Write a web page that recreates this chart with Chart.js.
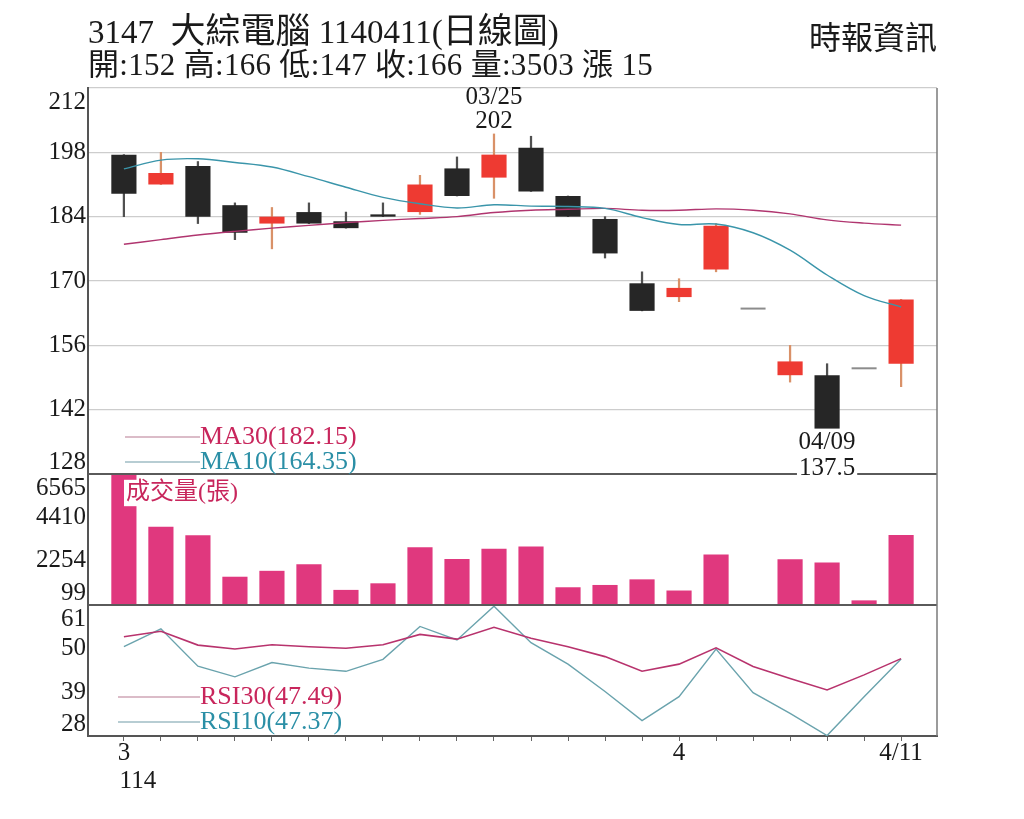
<!DOCTYPE html>
<html lang="zh-Hant">
<head>
<meta charset="UTF-8">
<title>3147 大綜電腦 日線圖</title>
<script src="https://cdn.jsdelivr.net/npm/chart.js@4.4.1/dist/chart.umd.min.js"></script>
<style>
    body { margin: 0; background: #fff; }
    .wrap { position: relative; width: 1024px; height: 819px; overflow: hidden; }
    canvas { position: absolute; left: 0; top: 0; }
    .hd { position: absolute; color: #1a1a1a; white-space: pre; line-height: 1; z-index: 2;
          font-family: "Liberation Serif", "Noto Sans CJK TC", serif; }
    #title { left: 88px; top: 14px; font-size: 33px; }
    #title .cjk { font-size: 35px; }
    #info { left: 88px; top: 49px; font-size: 31px; letter-spacing: 0.3px; }
    #src { left: 809px; top: 19px; font-size: 32px; font-family: "Noto Sans CJK TC", sans-serif; }
</style>
</head>
<body>
<div class="wrap">
    <div class="hd" id="title">3147  <span class="cjk">大綜電腦</span> 1140411(<span class="cjk">日線圖</span>)</div>
    <div class="hd" id="info">開:152 高:166 低:147 收:166 量:3503 漲 15</div>
    <div class="hd" id="src">時報資訊</div>
    <canvas id="chart" width="1024" height="819"></canvas>
</div>
<script>
    // daily data, 114/03/11 - 114/04/11
    const dates = ['03/11', '03/12', '03/13', '03/14', '03/17', '03/18', '03/19', '03/20', '03/21', '03/24', '03/25',
        '03/26', '03/27', '03/28', '03/31', '04/01', '04/02', '04/07', '04/08', '04/09', '04/10', '04/11'];
    const opens = [197.5, 191, 195, 186.5, 182.5, 185, 183, 184.5, 185, 194.5, 192.5,
        199, 188.5, 183.5, 169.5, 166.5, 172.5, 164, 149.5, 149.5, 151, 152];
    const highs = [197.5, 198, 196, 187, 186, 187, 185, 187, 193, 197, 202,
        201.5, 188.5, 184, 172, 170.5, 182.5, 164, 156, 152, 151, 166];
    const lows = [184, 191, 182.5, 179, 177, 182.5, 181.5, 184, 184.5, 188.5, 188,
        189.5, 184, 175, 163.5, 165.5, 172, 164, 148, 137.5, 151, 147];
    const closes = [189, 193.5, 184, 180.5, 184, 182.5, 181.5, 184, 191, 188.5, 197.5,
        189.5, 184, 176, 163.5, 168.5, 182, 164, 152.5, 137.5, 151, 166];
    const volumes = [6565, 3918, 3493, 1417, 1713, 2042, 757, 1087, 2898, 2305, 2816,
        2931, 889, 1004, 1285, 726, 2535, 0, 2288, 2124, 232, 3503];
    const ma10 = [194.4, 196.3, 196.6, 195.8, 194.8, 192.7, 190.4, 188.2, 186.8, 185.9, 186.6,
        186.3, 186.2, 185.8, 183.8, 182.3, 182.4, 180.5, 176.7, 171.3, 166.8, 164.35];
    const ma30 = [178.0, 179.0, 180.0, 180.8, 181.5, 182.1, 182.7, 183.2, 183.6, 184.0, 184.9,
        185.4, 185.6, 185.8, 185.4, 185.4, 185.7, 185.4, 184.6, 183.3, 182.6, 182.15];
    const rsi30 = [53.0, 54.4, 50.9, 49.9, 51.0, 50.5, 50.1, 51.0, 53.6, 52.4, 55.4,
        52.6, 50.5, 48.0, 44.3, 46.1, 50.2, 45.5, 42.5, 39.6, 43.4, 47.49];
    const rsi10 = [50.5, 55.0, 45.6, 42.9, 46.5, 45.1, 44.3, 47.3, 55.6, 52.2, 60.7,
        51.5, 46.1, 39.2, 31.9, 37.9, 49.9, 38.9, 33.7, 28.1, 37.9, 47.37];

    const priceTicks = [128, 142, 156, 170, 184, 198, 212];
    const volumeTicks = [99, 2254, 4410, 6565];
    const rsiTicks = [28, 39, 50, 61];
    const monthLabels = { 0: '3', 15: '4', 21: '4/11' };
    const yearLabel = '114';

    const RED = '#ee3a32', BLACK = '#262626', FLAT = '#8c8c8c';
    const FONT = '"Liberation Serif", "Noto Sans CJK TC", serif';

    const idx = dates.map((d, i) => i);
    const candleColor = i => closes[i] > opens[i] ? RED : (closes[i] < opens[i] ? BLACK : FLAT);
    const wickColor = i => closes[i] > opens[i] ? '#d99168' : '#505050';

    function text(ctx, s, x, y, o) {
        o = o || {};
        ctx.save();
        ctx.font = (o.size || 25) + 'px ' + FONT;
        ctx.textAlign = o.align || 'center';
        ctx.textBaseline = 'middle';
        if (o.bg) {
            const w = ctx.measureText(s).width;
            const x0 = o.align === 'left' ? x : (o.align === 'right' ? x - w : x - w / 2);
            ctx.fillStyle = o.bg;
            ctx.fillRect(x0 - 2, y - (o.size || 25) * 0.55, w + 4, (o.size || 25) * 1.1);
        }
        ctx.fillStyle = o.color || '#1a1a1a';
        ctx.fillText(s, x, y);
        ctx.restore();
    }

    function legendLine(ctx, x0, x1, y, color) {
        ctx.save();
        ctx.strokeStyle = color;
        ctx.lineWidth = 1.5;
        ctx.beginPath();
        ctx.moveTo(x0, y);
        ctx.lineTo(x1, y);
        ctx.stroke();
        ctx.restore();
    }

    const panelDecor = {
        id: 'panelDecor',
        afterDraw(chart) {
            const ctx = chart.ctx;
            const a = chart.chartArea;
            const { x, yPrice, yVol, yRsi } = chart.scales;

            // panel separators and right frame
            ctx.save();
            ctx.strokeStyle = '#5a5a5a';
            ctx.lineWidth = 2;
            [yVol.top, yRsi.top].forEach(y => {
                ctx.beginPath();
                ctx.moveTo(a.left, y);
                ctx.lineTo(a.right, y);
                ctx.stroke();
            });
            ctx.strokeStyle = '#7a7a7a';
            ctx.lineWidth = 1.5;
            ctx.beginPath();
            ctx.moveTo(a.right, a.top);
            ctx.lineTo(a.right, a.bottom);
            ctx.stroke();
            ctx.restore();

            // y tick labels, kept inside their own panel
            [[yPrice, priceTicks], [yVol, volumeTicks], [yRsi, rsiTicks]].forEach(([s, ticks]) => {
                ticks.forEach(v => {
                    const y = Math.min(Math.max(s.getPixelForValue(v), s.top + 14), s.bottom - 12);
                    text(ctx, String(v), a.left - 2, y, { align: 'right' });
                });
            });

            // x labels
            Object.keys(monthLabels).forEach(k => {
                text(ctx, monthLabels[k], x.getPixelForValue(+k), x.top + 17);
            });
            text(ctx, yearLabel, x.getPixelForValue(0) + 14, x.top + 45);

            // highest and lowest marks
            const hi = highs.indexOf(Math.max(...highs));
            const lo = lows.indexOf(Math.min(...lows));
            const hx = x.getPixelForValue(hi), hy = yPrice.getPixelForValue(highs[hi]);
            text(ctx, dates[hi], hx, hy - 37);
            text(ctx, String(highs[hi]), hx, hy - 13);
            const lx = x.getPixelForValue(lo), ly = yPrice.getPixelForValue(lows[lo]);
            text(ctx, dates[lo], lx, ly + 12, { bg: '#fff' });
            text(ctx, String(lows[lo]), lx, ly + 38, { bg: '#fff' });

            // in-panel legends
            const lx0 = a.left + 37, lx1 = a.left + 112;
            legendLine(ctx, lx0, lx1, yPrice.bottom - 37, '#cfa6b6');
            text(ctx, 'MA30(' + ma30[ma30.length - 1].toFixed(2) + ')', lx1, yPrice.bottom - 37, { align: 'left', size: 26, color: '#c8265c' });
            legendLine(ctx, lx0, lx1, yPrice.bottom - 12, '#9fbcc4');
            text(ctx, 'MA10(' + ma10[ma10.length - 1].toFixed(2) + ')', lx1, yPrice.bottom - 12, { align: 'left', size: 26, color: '#2b8fa6' });

            text(ctx, '成交量(張)', a.left + 38, yVol.top + 19, { align: 'left', size: 24, color: '#c8265c', bg: '#fff' });

            legendLine(ctx, a.left + 30, lx1, yRsi.bottom - 39, '#cfa6b6');
            text(ctx, 'RSI30(' + rsi30[rsi30.length - 1].toFixed(2) + ')', lx1, yRsi.bottom - 39, { align: 'left', size: 26, color: '#c8265c' });
            legendLine(ctx, a.left + 30, lx1, yRsi.bottom - 14, '#9fbcc4');
            text(ctx, 'RSI10(' + rsi10[rsi10.length - 1].toFixed(2) + ')', lx1, yRsi.bottom - 14, { align: 'left', size: 26, color: '#2b8fa6' });
        }
    };

    const fixedTicks = list => scale => { scale.ticks = list.map(v => ({ value: v })); };
    const yAxis = (weight, stackWeight, min, max, ticks, grid) => ({
        type: 'linear', position: 'left', stack: 'panels', weight, stackWeight, min, max,
        afterBuildTicks: fixedTicks(ticks),
        afterFit: s => { s.width = 88; },
        ticks: { display: false },
        grid: grid ? { color: '#cdcdcd', lineWidth: 1.3, drawTicks: false } : { display: false },
        border: { color: '#555', width: 2 }
    });

    const ctx = document.getElementById('chart').getContext('2d');
    new Chart(ctx, {
        type: 'bar',
        data: {
            datasets: [{
                type: 'line', label: 'MA10', yAxisID: 'yPrice', order: 1,
                data: idx.map(i => ({ x: i, y: ma10[i] })),
                borderColor: '#3a95aa', borderWidth: 1.4, pointRadius: 0, tension: 0.35
            }, {
                type: 'line', label: 'MA30', yAxisID: 'yPrice', order: 1,
                data: idx.map(i => ({ x: i, y: ma30[i] })),
                borderColor: '#b0356f', borderWidth: 1.4, pointRadius: 0, tension: 0.35
            }, {
                type: 'line', label: 'flat', yAxisID: 'yPrice', order: 2, showLine: false,
                data: idx.map(i => ({ x: i, y: opens[i] === closes[i] ? closes[i] : null })),
                pointStyle: 'line', pointRadius: 12.5, pointBorderColor: FLAT, pointBorderWidth: 2
            }, {
                label: 'body', yAxisID: 'yPrice', order: 3, grouped: false,
                data: idx.map(i => ({ x: i, y: [opens[i], closes[i]] })),
                backgroundColor: idx.map(candleColor),
                barPercentage: 0.68, categoryPercentage: 1
            }, {
                label: 'wick', yAxisID: 'yPrice', order: 4, grouped: false,
                data: idx.map(i => ({ x: i, y: [lows[i], highs[i]] })),
                backgroundColor: idx.map(wickColor),
                barThickness: 1.6
            }, {
                label: 'volume', yAxisID: 'yVol', order: 3, grouped: false,
                data: idx.map(i => ({ x: i, y: volumes[i] })),
                backgroundColor: '#e0387e',
                barPercentage: 0.68, categoryPercentage: 1
            }, {
                type: 'line', label: 'RSI30', yAxisID: 'yRsi', order: 1,
                data: idx.map(i => ({ x: i, y: rsi30[i] })),
                borderColor: '#b8336d', borderWidth: 1.6, pointRadius: 0, tension: 0
            }, {
                type: 'line', label: 'RSI10', yAxisID: 'yRsi', order: 1,
                data: idx.map(i => ({ x: i, y: rsi10[i] })),
                borderColor: '#6aa3ad', borderWidth: 1.4, pointRadius: 0, tension: 0
            }]
        },
        options: {
            responsive: false,
            animation: false,
            devicePixelRatio: 1,
            layout: { padding: { top: 88, right: 87, left: 0, bottom: 0 } },
            plugins: { legend: { display: false }, tooltip: { enabled: false } },
            scales: {
                x: {
                    type: 'linear', min: -0.97, max: 21.97, offset: false,
                    afterBuildTicks: fixedTicks(idx),
                    afterFit: s => { s.height = 83; },
                    ticks: { display: false },
                    grid: { drawOnChartArea: false, drawTicks: true, tickLength: 5, color: '#666', offset: false },
                    border: { color: '#555', width: 2 }
                },
                yPrice: yAxis(3, 386, 128, 212, priceTicks, true),
                yVol: yAxis(2, 131, 0, 6565, volumeTicks, false),
                yRsi: yAxis(1, 131, 28, 61, rsiTicks, false)
            }
        },
        plugins: [panelDecor]
    });
</script>
</body>
</html>
